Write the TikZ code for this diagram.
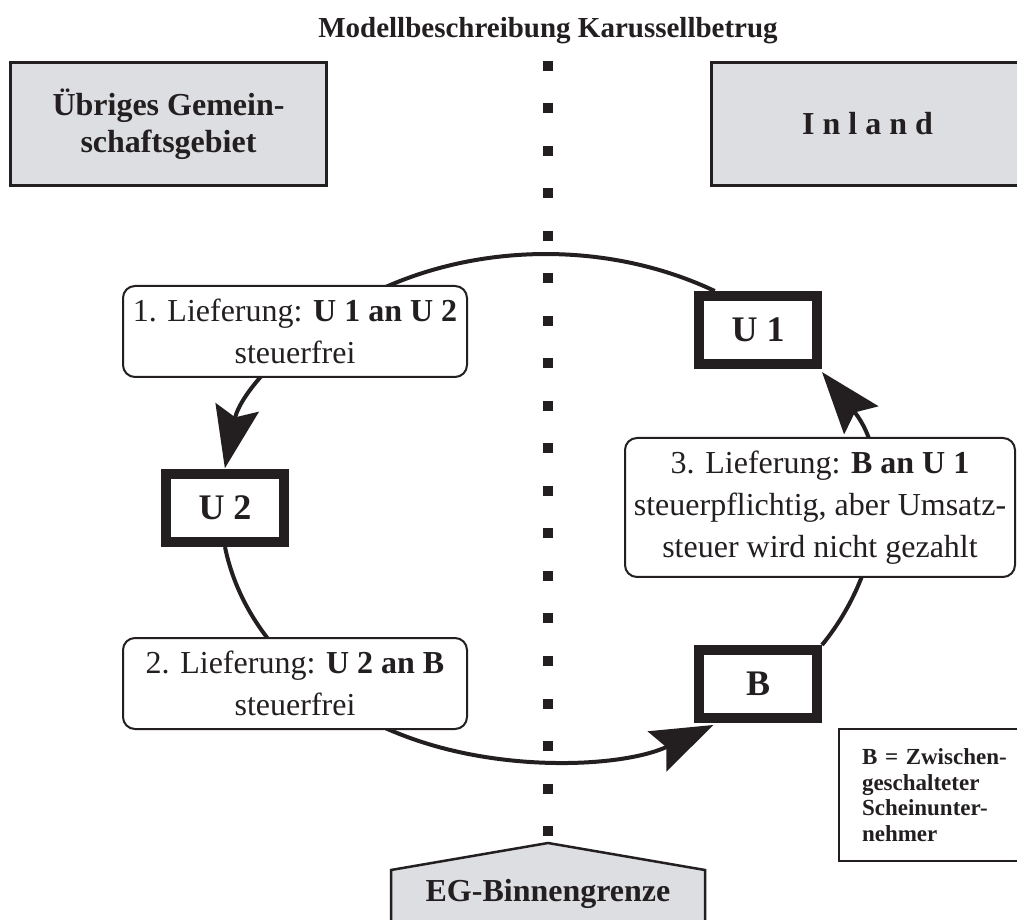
\documentclass[tikz,border=0pt]{standalone}
\usepackage{fontspec}
\setmainfont{Liberation Serif}
\usetikzlibrary{arrows.meta}

\definecolor{ink}{RGB}{35,31,32}
\definecolor{boxgray}{RGB}{221,222,225}

\pgfdeclarelayer{hinten}
\pgfsetlayers{hinten,main}

\tikzset{
  gebiet/.style={draw=ink, line width=3pt, fill=boxgray, text=ink, minimum width=316pt, minimum height=123pt, align=center, inner sep=0pt, font=\fontsize{32}{37}\selectfont\bfseries},
  firma/.style={draw=ink, line width=10pt, fill=white, text=ink, minimum width=118pt, minimum height=68pt, inner sep=0pt, font=\fontsize{36}{40}\selectfont\bfseries},
  lieferung/.style={draw=ink, line width=2pt, fill=white, text=ink, rounded corners=12pt, align=center, inner sep=0pt, font=\fontsize{32}{42}\selectfont},
  fluss/.style={draw=ink, line width=4pt, -{Stealth[length=62pt, width=44pt, inset=10pt]}},
  punkt/.style={fill=ink}
}

\begin{document}
\begin{tikzpicture}[x=1pt, y=1pt]
\useasboundingbox (0,0) rectangle (1017,919);

% Ueberschrift
\node[text=ink, font=\fontsize{29}{33}\selectfont\bfseries] (titel) at (548,888) {Modellbeschreibung Karussellbetrug};

% Gebiete links und rechts
\node[gebiet] (ausland) at (168.5,795) {Übriges Gemein-\\schaftsgebiet};
\node[gebiet, minimum width=312pt] (inland) at (867.5,795) {I n l a n d};

% Grenze als Punktlinie
\foreach \k in {0,...,18}
  \fill[punkt] (543,{848-42.5*\k}) rectangle ++(10,10);
\filldraw[draw=ink, line width=2.5pt, fill=boxgray] (391,-10) -- (391,49) -- (548,76) -- (705,49) -- (705,-10);
\node[text=ink, font=\fontsize{32}{36}\selectfont\bfseries] (grenze) at (548,25) {EG-Binnengrenze};

% Unternehmer
\node[firma] (u1) at (758,589) {U 1};
\node[firma] (u2) at (225,411) {U 2};
\node[firma] (b) at (758,235) {B};

% Lieferungen
\node[lieferung, minimum width=344pt, minimum height=91pt] (lief1) at (295,587.5) {1. Lieferung: \textbf{U 1 an U 2}\\steuerfrei};
\node[lieferung, minimum width=344pt, minimum height=91pt] (lief2) at (295,235.5) {2. Lieferung: \textbf{U 2 an B}\\steuerfrei};
\node[lieferung, minimum width=390pt, minimum height=139pt] (lief3) at (820,411.5) {3. Lieferung: \textbf{B an U 1}\\steuerpflichtig, aber Umsatz-\\steuer wird nicht gezahlt};

% Legende
\node[draw=ink, line width=2pt, text=ink, anchor=west, minimum height=132pt, text width=160pt, inner xsep=23pt, align=left, font=\fontsize{23}{25.5}\selectfont\bfseries] (legende) at (838,124) {B = Zwischen-\\geschalteter\\Scheinunter-\\nehmer};

% Karussell
\begin{pgfonlayer}{hinten}
\draw[fluss] (u1.138) arc[start angle=58.7, end angle=171, x radius=325, y radius=254];
\draw[fluss] (u2.south) arc[start angle=189, end angle=301, x radius=325, y radius=254];
\draw[fluss] (b.north east) arc[start angle=-32.5, end angle=32.5, x radius=325, y radius=254];
\end{pgfonlayer}
\end{tikzpicture}
\end{document}
